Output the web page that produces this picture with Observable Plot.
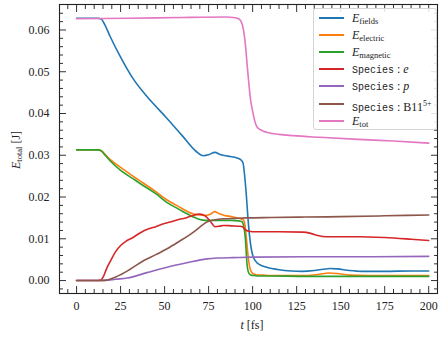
<!DOCTYPE html>
<html><head><meta charset="utf-8">
<script src="https://cdn.jsdelivr.net/npm/d3@7"></script>
<script src="https://cdn.jsdelivr.net/npm/@observablehq/plot@0.6"></script>
<style>
body{margin:0;background:#fff;}
#wrap{position:relative;width:445px;height:338px;font-family:"Liberation Serif",serif;color:#222;}
#legend{position:absolute;left:313px;top:8px;width:124px;height:122px;border:1px solid #d4d4d4;border-radius:3px;background:rgba(255,255,255,0.85);box-sizing:border-box;}
.row{position:absolute;left:0;height:16px;width:124px;font-size:12px;line-height:16px;color:#222;}
.sw{position:absolute;left:5px;top:7px;width:25px;height:2px;}
.lab{position:absolute;left:38px;top:0;white-space:nowrap;color:#222;}
.lab sub{font-size:8.5px;vertical-align:-2px;}
.lab sup{font-size:8px;vertical-align:5px;}
.mono{font-family:"Liberation Mono",monospace;font-size:10px;}
#ylab{position:absolute;left:16px;top:150px;transform:translate(-50%,-50%) rotate(-90deg);font-size:12px;white-space:nowrap;}
#ylab sub{font-size:8.5px;vertical-align:-2px;}
#xlab{position:absolute;left:252px;top:325px;transform:translate(-50%,-50%);font-size:12px;white-space:nowrap;}
</style>
</head><body>
<div id="wrap"></div>
<script>
const colors = ["#1f77b4","#ff7f0e","#2ca02c","#d62728","#9467bd","#8c564b","#e377c2"];
const labels = ["E_fields","E_electric","E_magnetic","Species : e","Species : p","Species : B11^5+","E_tot"];

const tFields = [0,12,14,16,19,25,32,42,51,60,68,72,75,78.5,82,86,90,93,94.5,95.6,96.5,97.3,98.3,99.4,100.5,102.2,104,108,115,122,128,135,140,144,148,155,162,175,190,200];
const vFields = [.0628,.0628,.0626,.0613,.0585,.0535,.0484,.0431,.0390,.0347,.0309,.0299,.0301,.0307,.0301,.0298,.0295,.0290,.0282,.0245,.0200,.0152,.0105,.0072,.0055,.0044,.0038,.0032,.0026,.0023,.0022,.0024,.0027,.0029,.0028,.0024,.0022,.0022,.0023,.0023];

const tElectric = [0,12,14,16,19,25,32,38,45,51,58,66,70,73,76,78.5,81,84,88,93,94.8,95.8,96.8,97.8,98.8,100,102,106,110,120,130,138,143,148,155,165,180,200];
const vElectric = [.0313,.0313,.0311,.0303,.0290,.0271,.0250,.0233,.0213,.0194,.0177,.0160,.0157,.0156,.0159,.0165,.0160,.0156,.0153,.0148,.0145,.0128,.0085,.0045,.0025,.0017,.0014,.0013,.0012,.0012,.0012,.0015,.0018,.0017,.0013,.0012,.0012,.0012];

const tMagnetic = [0,12,14,16,19,25,32,38,45,51,58,66,70,73,80,88,92,94,95,95.8,96.8,97.9,99,101,103,110,130,160,200];
const vMagnetic = [.0313,.0313,.0311,.0301,.0287,.0264,.0244,.0227,.0208,.0188,.0171,.0153,.0146,.0144,.0144,.0144,.0143,.0141,.0128,.0104,.0040,.0017,.0013,.0012,.0011,.0011,.0010,.0010,.0010];

const tE = [0,12,13.8,15.5,17,19.4,22,25,28,31.6,36,41,45,49.5,53,57,62,66,70,73,75,77,78.5,81,83.4,88,92.8,94.5,96,98,100,104,115,128.5,133,137,141.7,150,160.5,175,190,200];
const vE = [0,0,.0001,.0012,.0028,.0048,.0068,.0084,.0094,.0102,.0114,.0124,.0129,.0136,.0140,.0145,.0150,.0156,.0159,.0155,.0147,.0136,.0129,.0130,.0132,.0131,.0130,.0128,.0121,.0118,.0117,.0117,.0117,.0116,.0113,.0108,.0105,.0105,.0105,.0103,.0099,.0096];

const tP = [0,14,18,22,28.8,40,51.4,62,74,80,89,100,130,160,200];
const vP = [0,0,.0001,.0003,.0006,.0019,.0032,.0042,.0052,.0054,.0055,.0056,.0057,.0057,.0058];

const tB = [0,14,18,23,30,38.2,45,51.4,58,66.4,70,74,78,83.4,90,96.5,110,130,150,175,200];
const vB = [0,0,.0002,.0010,.0026,.0048,.0062,.0076,.0093,.0116,.0128,.0140,.0145,.0148,.0149,.0150,.0151,.0152,.0153,.0155,.0157];

const tTot = [0,30,60,85,89,92,93.5,94.8,96,97,98,98.9,99.8,100.5,101.5,102.6,105,108,115,123,138,160,180,200];
const vTot = [.0627,.0628,.0630,.0631,.0630,.0627,.0620,.0600,.0560,.0511,.0465,.0431,.0410,.0395,.0378,.0367,.0360,.0355,.0350,.0347,.0343,.0338,.0334,.0329];

const xMajor = [0,25,50,75,100,125,150,175,200];
const xMinor = d3.range(-5, 205, 5).filter(v => v % 25 !== 0);
const yMajor = [0,0.01,0.02,0.03,0.04,0.05,0.06];
const yMinor = d3.range(-2, 66, 2).map(v => v / 1000).filter(v => Math.round(v * 1000) % 10 !== 0);

const series = [[tFields,vFields],[tElectric,vElectric],[tMagnetic,vMagnetic],[tE,vE],[tP,vP],[tB,vB],[tTot,vTot]];
const lineMarks = series.map(([ts, vs], i) =>
  Plot.line(ts.map((t, j) => ({t, v: vs[j]})), {x: "t", y: "v", stroke: colors[i], strokeWidth: 1.6, curve: "monotone-x"})
);

const tickStroke = "#333";
const noText = {fill: "none", label: null, stroke: tickStroke};
const chart = Plot.plot({
  width: 445, height: 338,
  marginLeft: 59, marginRight: 8, marginTop: 4, marginBottom: 45,
  style: {background: "white", fontFamily: "Liberation Serif, serif", fontSize: "12px", color: "#222"},
  x: {domain: [-9.7, 205]},
  y: {domain: [-0.0031, 0.0661]},
  marks: [
    ...lineMarks,
    Plot.axisX({anchor: "bottom", ticks: xMajor, tickSize: -7, tickPadding: 15, label: null, tickFormat: d3.format("d"), stroke: tickStroke, fill: "#222", fontSize: 12}),
    Plot.axisX({anchor: "bottom", ticks: xMinor, tickSize: -4, ...noText}),
    Plot.axisX({anchor: "top", ticks: xMajor, tickSize: -7, ...noText}),
    Plot.axisX({anchor: "top", ticks: xMinor, tickSize: -4, ...noText}),
    Plot.axisY({anchor: "left", ticks: yMajor, tickSize: -7, tickPadding: 17, label: null, tickFormat: d3.format(".2f"), stroke: tickStroke, fill: "#222", fontSize: 12}),
    Plot.axisY({anchor: "left", ticks: yMinor, tickSize: -4, ...noText}),
    Plot.axisY({anchor: "right", ticks: yMajor, tickSize: -7, ...noText}),
    Plot.axisY({anchor: "right", ticks: yMinor, tickSize: -4, ...noText}),
    Plot.frame({stroke: "#222", strokeWidth: 1.1})
  ]
});
const wrap = document.getElementById("wrap");
wrap.appendChild(chart);

const legendHTML = [
  '<i>E</i><sub>fields</sub>',
  '<i>E</i><sub>electric</sub>',
  '<i>E</i><sub>magnetic</sub>',
  '<span class="mono">Species</span> : <i>e</i>',
  '<span class="mono">Species</span> : <i>p</i>',
  '<span class="mono">Species</span> : B11<sup>5+</sup>',
  '<i>E</i><sub>tot</sub>'
];
const leg = document.createElement("div");
leg.id = "legend";
legendHTML.forEach((h, i) => {
  const r = document.createElement("div");
  r.className = "row";
  r.style.top = (1 + i * 17.1) + "px";
  r.innerHTML = `<div class="sw" style="background:${colors[i]}"></div><div class="lab" title="${labels[i]}">${h}</div>`;
  leg.appendChild(r);
});
wrap.appendChild(leg);

const yl = document.createElement("div");
yl.id = "ylab"; yl.innerHTML = '<i>E</i><sub>total</sub> [J]';
wrap.appendChild(yl);
const xl = document.createElement("div");
xl.id = "xlab"; xl.innerHTML = '<i>t</i> [fs]';
wrap.appendChild(xl);
</script>
</body></html>
